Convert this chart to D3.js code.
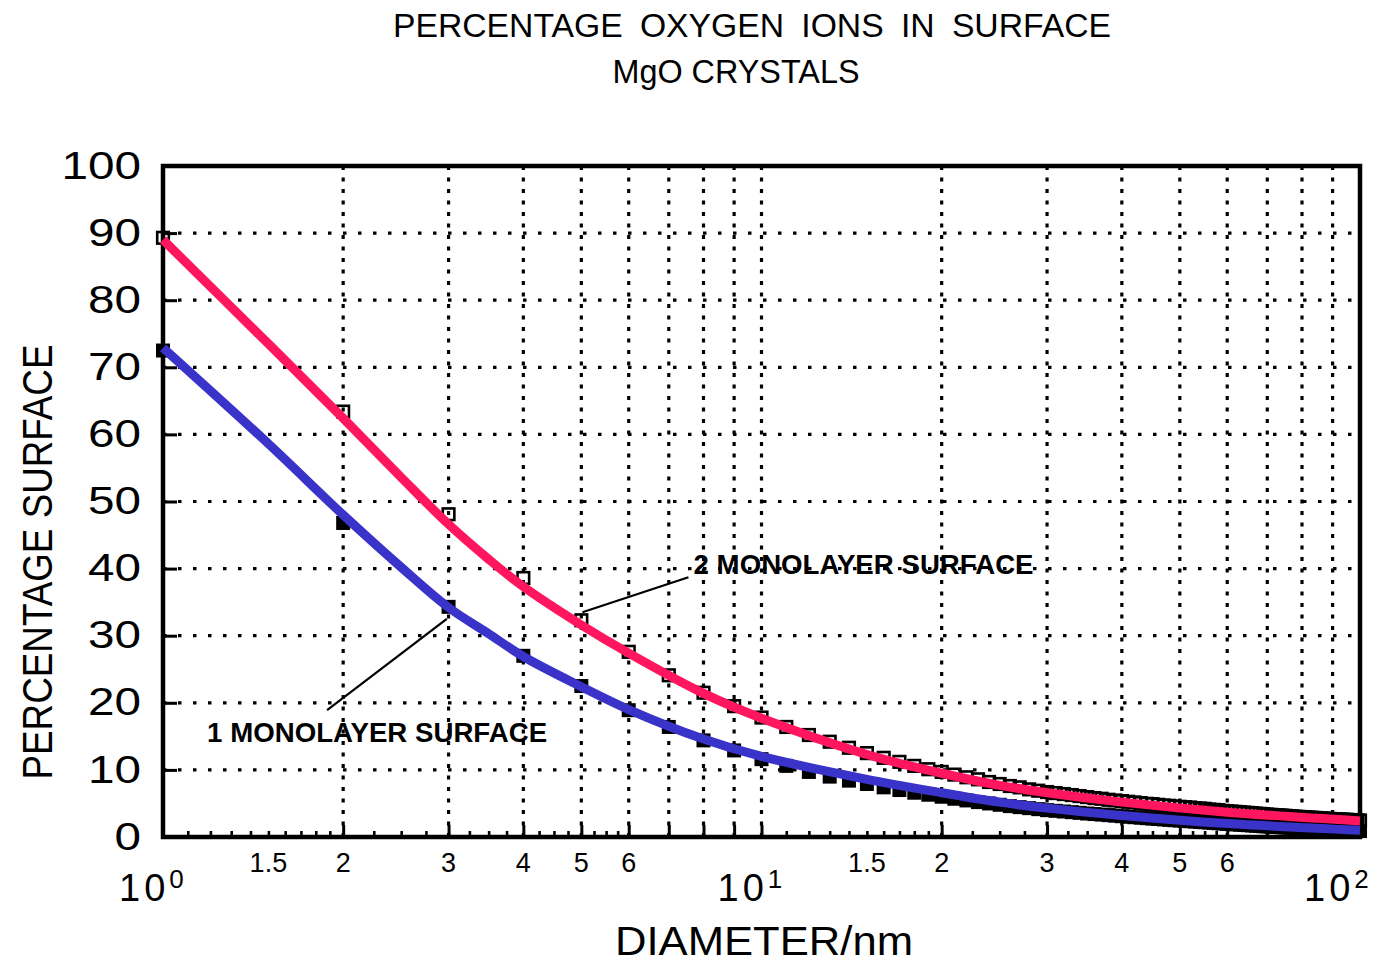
<!DOCTYPE html>
<html>
<head>
<meta charset="utf-8">
<script src="https://cdn.jsdelivr.net/npm/d3@7"></script>
<style>
  html, body { margin: 0; padding: 0; background: #fff; }
  svg { display: block; }
  text { font-family: "Liberation Sans", Arial, sans-serif; fill: #000; }
</style>
</head>
<body>
<svg id="chart" width="1388" height="962"></svg>
<script>
// ---------------- DATA ----------------
const titleLines = ["PERCENTAGE OXYGEN IONS IN SURFACE", "MgO CRYSTALS"];
const xTitle = "DIAMETER/nm";
const yTitle = "PERCENTAGE SURFACE";
const yTicks = [0, 10, 20, 30, 40, 50, 60, 70, 80, 90, 100];
const xDecades = [1, 10, 100];
const xDecadeExp = ["0", "1", "2"];
const xGrid = [2, 3, 4, 5, 6, 7, 8, 9, 10, 20, 30, 40, 50, 60, 70, 80, 90];
const xMajorTicks = [2, 3, 4, 5, 6, 7, 8, 9, 10, 20, 30, 40, 50, 60, 70, 80, 90];
const xMinorTicks = [1.1, 1.2, 1.3, 1.4, 1.5, 1.6, 1.7, 1.8, 1.9, 2.25, 2.5, 2.75, 3.25, 3.5, 3.75,
  4.25, 4.5, 4.75, 5.25, 5.5, 5.75, 11, 12, 13, 14, 15, 16, 17, 18, 19, 22.5, 25, 27.5,
  32.5, 35, 37.5, 42.5, 45, 47.5, 52.5, 55, 57.5];
const xMinorLabels = [1.5, 2, 3, 4, 5, 6, 15, 20, 30, 40, 50, 60];
const xMinorLabelText = ["1.5", "2", "3", "4", "5", "6", "1.5", "2", "3", "4", "5", "6"];

// fitted curves (diameter nm, percentage)
const curveX = [1, 1.5, 2, 2.5, 3, 3.5, 4, 5, 6, 8, 10, 15, 20, 25, 30, 40, 60, 100];
const twoLayerCurve = [89, 73.5, 62.4, 53.6, 46.6, 41.4, 37.3, 31.6, 27.4, 21.4, 17.7, 12.3, 9.5, 7.7, 6.6, 5.2, 3.7, 2.4];
const oneLayerCurve = [72.9, 58.6, 48.0, 40.2, 34.2, 30.3, 26.9, 22.4, 19.0, 14.6, 12.0, 8.6, 6.6, 5.2, 4.3, 3.2, 2.0, 1.0];

// computed points at integer diameters 1..100
const pointX = d3.range(1, 101);
const twoLayerPts = [89.3, 63.4, 48.1, 38.6, 32.3, 27.6, 24.1, 21.5, 19.5, 17.8,
  16.4, 15.2, 14.2, 13.3, 12.5, 11.8, 11.2, 10.6, 10.1, 9.7,
  9.3, 8.9, 8.6, 8.2, 7.9, 7.6, 7.4, 7.1, 6.9, 6.7,
  6.55, 6.4, 6.25, 6.1, 5.95, 5.8, 5.7, 5.55, 5.45, 5.35,
  5.25, 5.15, 5.05, 4.95, 4.9, 4.8, 4.7, 4.65, 4.55, 4.5,
  4.45, 4.4, 4.3, 4.25, 4.2, 4.1, 4.05, 4.0, 3.9, 3.85,
  3.8, 3.75, 3.7, 3.65, 3.6, 3.55, 3.5, 3.45, 3.4, 3.35,
  3.3, 3.27, 3.24, 3.2, 3.16, 3.12, 3.08, 3.04, 3.0, 2.97,
  2.94, 2.91, 2.88, 2.85, 2.82, 2.79, 2.76, 2.73, 2.7, 2.67,
  2.64, 2.62, 2.6, 2.58, 2.56, 2.54, 2.52, 2.5, 2.48, 2.46];
const oneLayerPts = [72.5, 46.8, 34.3, 27.0, 22.5, 18.9, 16.4, 14.4, 12.9, 11.6,
  10.6, 9.7, 9.0, 8.4, 7.9, 7.4, 7.0, 6.6, 6.3, 6.0,
  5.7, 5.45, 5.2, 5.0, 4.8, 4.6, 4.45, 4.3, 4.15, 4.0,
  3.9, 3.8, 3.7, 3.6, 3.5, 3.42, 3.34, 3.26, 3.18, 3.1,
  3.02, 2.95, 2.88, 2.81, 2.74, 2.68, 2.62, 2.56, 2.5, 2.45,
  2.4, 2.35, 2.3, 2.25, 2.2, 2.15, 2.1, 2.05, 2.0, 1.96,
  1.92, 1.88, 1.84, 1.8, 1.76, 1.72, 1.68, 1.64, 1.6, 1.57,
  1.54, 1.51, 1.48, 1.45, 1.42, 1.39, 1.36, 1.33, 1.3, 1.28,
  1.26, 1.24, 1.22, 1.2, 1.18, 1.16, 1.14, 1.12, 1.1, 1.08,
  1.06, 1.04, 1.02, 1.0, 0.98, 0.96, 0.94, 0.92, 0.9, 0.88];

// annotations in data coordinates: text anchor and leader line
const annotations = [
  { text: "1  MONOLAYER  SURFACE", tx: 1.185, ty: 14.2, x1: 1.88, y1: 18.9, x2: 2.98, y2: 32.5 },
  { text: "2  MONOLAYER  SURFACE", tx: 7.70, ty: 39.2, x1: 7.55, y1: 38.7, x2: 5.02, y2: 33.5 }
];

// ---------------- CHART ----------------
const svg = d3.select("#chart");
const L = 163, R = 1360, T = 166, B = 837;
const x = d3.scaleLog().domain([1, 100]).range([L, R]);
const y = d3.scaleLinear().domain([0, 100]).range([B, T]);
const pink = "#ff165e", blue = "#3a33c9";

// titles
svg.append("text").attr("x", 752).attr("y", 37).attr("text-anchor", "middle")
  .attr("font-size", 34).attr("textLength", 718).attr("lengthAdjust", "spacingAndGlyphs")
  .attr("word-spacing", 8).text(titleLines[0]);
svg.append("text").attr("x", 736).attr("y", 83).attr("text-anchor", "middle")
  .attr("font-size", 33).attr("textLength", 247).attr("lengthAdjust", "spacingAndGlyphs")
  .text(titleLines[1]);

// gridlines
const grid = svg.append("g");
grid.selectAll("line.h").data(yTicks.filter(v => v > 0 && v < 100)).join("line")
  .attr("x1", L).attr("x2", R).attr("y1", d => y(d)).attr("y2", d => y(d))
  .attr("stroke", "#000").attr("stroke-width", 3.2).attr("stroke-dasharray", "3.5,11.5");
grid.selectAll("line.v").data(xGrid).join("line")
  .attr("x1", d => x(d)).attr("x2", d => x(d)).attr("y1", T).attr("y2", B)
  .attr("stroke", "#000").attr("stroke-width", 3.2).attr("stroke-dasharray", "4,7.5");

// y axis ticks (inward) and labels
const yAxis = d3.axisLeft(y).tickValues(yTicks).tickSize(-14).tickPadding(22)
  .tickFormat(d3.format("d"));
const gy = svg.append("g").attr("transform", `translate(${L},0)`).call(yAxis);
gy.select(".domain").remove();
gy.selectAll(".tick line").attr("stroke", "#000").attr("stroke-width", 3);
gy.selectAll(".tick text").attr("font-size", 38).attr("fill", "#000")
  .attr("font-family", "Liberation Sans, Arial, sans-serif")
  .attr("textLength", d => String(d).length * 26.5).attr("lengthAdjust", "spacingAndGlyphs");

// x axis: major and minor ticks (inward, up from bottom)
const gxMaj = svg.append("g").attr("transform", `translate(0,${B})`)
  .call(d3.axisBottom(x).tickValues(xMajorTicks).tickSize(-12).tickFormat(""));
gxMaj.select(".domain").remove();
gxMaj.selectAll(".tick line").attr("stroke", "#000").attr("stroke-width", 3);
const gxMin = svg.append("g").attr("transform", `translate(0,${B})`)
  .call(d3.axisBottom(x).tickValues(xMinorTicks).tickSize(-6).tickFormat(""));
gxMin.select(".domain").remove();
gxMin.selectAll(".tick line").attr("stroke", "#000").attr("stroke-width", 2.6);

// x minor labels
svg.append("g").selectAll("text").data(xMinorLabels).join("text")
  .attr("x", d => x(d)).attr("y", 872).attr("text-anchor", "middle")
  .attr("font-size", 27)
  .text((d, i) => xMinorLabelText[i]);

// decade labels 10^n
const dec = svg.append("g").selectAll("text").data(xDecades).join("text")
  .attr("x", (d, i) => x(d) - (i === 2 ? 56 : 44)).attr("y", 901).attr("font-size", 38);
dec.append("tspan").text("10").attr("letter-spacing", 4);
dec.append("tspan").text((d, i) => xDecadeExp[i]).attr("font-size", 26).attr("dy", -13);

// axis titles
svg.append("text").attr("x", 764).attr("y", 955).attr("text-anchor", "middle")
  .attr("font-size", 40).attr("textLength", 298).attr("lengthAdjust", "spacingAndGlyphs")
  .text(xTitle);
svg.append("text").attr("transform", "translate(52,562) rotate(-90)").attr("text-anchor", "middle")
  .attr("font-size", 42).attr("textLength", 435).attr("lengthAdjust", "spacingAndGlyphs")
  .text(yTitle);

// frame
svg.append("rect").attr("x", L).attr("y", T).attr("width", R - L).attr("height", B - T)
  .attr("fill", "none").attr("stroke", "#000").attr("stroke-width", 4.5);

// markers
const S = 14;
svg.append("g").selectAll("rect").data(pointX).join("rect")
  .attr("x", d => x(d) - S / 2).attr("y", (d, i) => y(oneLayerPts[i]) - S / 2)
  .attr("width", S).attr("height", S).attr("fill", "#000");
svg.append("g").selectAll("rect").data(pointX).join("rect")
  .attr("x", d => x(d) - S / 2 + 1.2).attr("y", (d, i) => y(twoLayerPts[i]) - S / 2 + 1.2)
  .attr("width", S - 2.4).attr("height", S - 2.4).attr("fill", "none")
  .attr("stroke", "#000").attr("stroke-width", 2.6);

// curves
const line = d3.line().x(d => x(d[0])).y(d => y(d[1])).curve(d3.curveCatmullRom.alpha(0.5));
svg.append("path").datum(curveX.map((v, i) => [v, twoLayerCurve[i]]))
  .attr("d", line).attr("fill", "none").attr("stroke", pink).attr("stroke-width", 9);
svg.append("path").datum(curveX.map((v, i) => [v, oneLayerCurve[i]]))
  .attr("d", line).attr("fill", "none").attr("stroke", blue).attr("stroke-width", 9);

// annotations
const ann = svg.append("g");
ann.selectAll("line").data(annotations).join("line")
  .attr("x1", d => x(d.x1)).attr("y1", d => y(d.y1))
  .attr("x2", d => x(d.x2)).attr("y2", d => y(d.y2))
  .attr("stroke", "#000").attr("stroke-width", 2.2);
ann.selectAll("text").data(annotations).join("text")
  .attr("x", d => x(d.tx)).attr("y", d => y(d.ty))
  .attr("font-size", 27).attr("font-weight", "bold")
  .attr("textLength", 340).attr("lengthAdjust", "spacingAndGlyphs")
  .text(d => d.text);
</script>
</body>
</html>
